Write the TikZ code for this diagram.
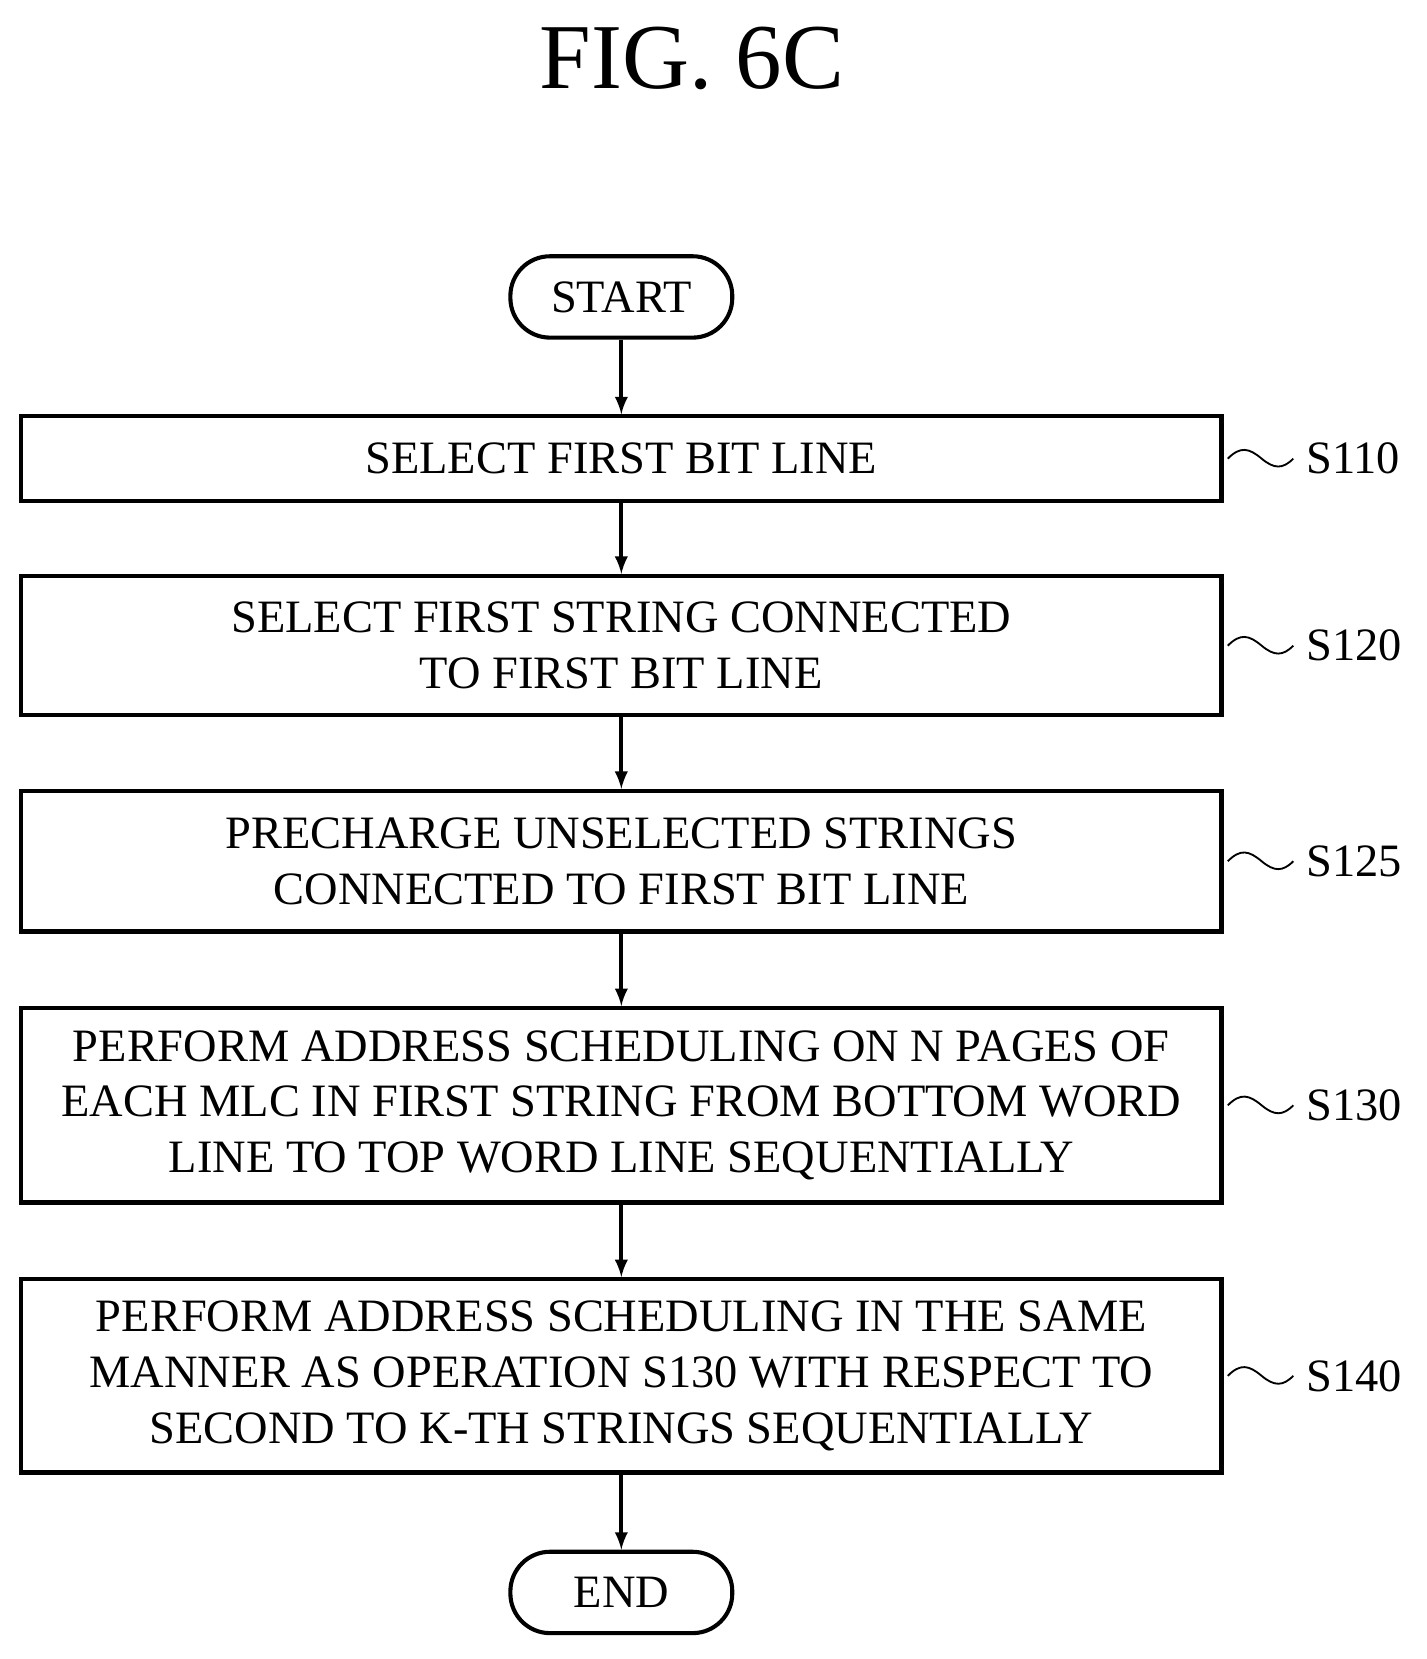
\documentclass[tikz,border=0pt]{standalone}
\usepackage{fontspec}
\setmainfont{Liberation Serif}
\usetikzlibrary{positioning}
\begin{document}
\begin{tikzpicture}[x=0.02cm,y=-0.02cm,
  opbox/.style={draw,line width=2.2pt,minimum width=1136*0.02cm,align=center,font=\fontsize{25}{30}\selectfont,inner sep=0pt},
  term/.style={draw,line width=2.2pt,rounded corners=0.75cm,minimum width=210*0.02cm,minimum height=77*0.02cm,font=\fontsize{25}{30}\selectfont},
  flow/.style={line width=2.2pt,-latex}]
\useasboundingbox (0,0) rectangle (1350,1570);
\node[font=\fontsize{50}{60}\selectfont] (title) at (655,55) {FIG. 6C};
\node[term] (start) at (588,281) {START};
\node[opbox,minimum height=80*0.02cm] (s110) at (588,434) {SELECT FIRST BIT LINE};
\node[opbox,minimum height=132*0.02cm] (s120) at (588,611) {SELECT FIRST STRING CONNECTED\\TO FIRST BIT LINE};
\node[opbox,minimum height=133*0.02cm] (s125) at (588,815) {PRECHARGE UNSELECTED STRINGS\\CONNECTED TO FIRST BIT LINE};
\node[opbox,minimum height=184*0.02cm] (s130) at (588,1046) {PERFORM ADDRESS SCHEDULING ON N PAGES OF\\EACH MLC IN FIRST STRING FROM BOTTOM WORD\\LINE TO TOP WORD LINE SEQUENTIALLY};
\node[opbox,minimum height=183*0.02cm] (s140) at (588,1302) {PERFORM ADDRESS SCHEDULING IN THE SAME\\MANNER AS OPERATION S130 WITH RESPECT TO\\SECOND TO K-TH STRINGS SEQUENTIALLY};
\node[term] (end) at (588,1507) {END};
\draw[flow] (start) -- (s110);
\draw[flow] (s110) -- (s120);
\draw[flow] (s120) -- (s125);
\draw[flow] (s125) -- (s130);
\draw[flow] (s130) -- (s140);
\draw[flow] (s140) -- (end);
% step labels
\foreach \s/\n in {s110/S110,s120/S120,s125/S125,s130/S130,s140/S140}{
  \node[anchor=west,font=\fontsize{25}{30}\selectfont] (l\s) at ([xshift=72*0.02cm]\s.east) {\n};
  \draw[line width=1pt,shift={(\s.east)}] (4,0) .. controls (16,-12) and (24,-10) .. (36,0) .. controls (48,10) and (56,10) .. (66,0);
}
\end{tikzpicture}
\end{document}
